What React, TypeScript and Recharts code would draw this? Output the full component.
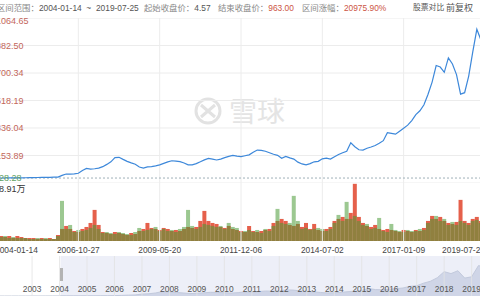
import React from "react";
import {
  LineChart,
  Line,
  BarChart,
  Bar,
  AreaChart,
  Area,
  XAxis,
  YAxis,
  ReferenceLine,
  ReferenceArea,
} from "recharts";

//#region Data

const rangeStart = "2004-01-14";
const rangeEnd = "2019-07-25";
const startClose = 4.57;
const endClose = 963.0;
const rangeChange = "20975.90%";

const dateLabels = ["2004-01-14", "2006-10-27", "2009-05-20", "2011-12-06", "2014-07-02", "2017-01-09", "2019-07-25"];
const priceTicks = [-28.28, 153.89, 336.04, 518.19, 700.34, 882.5, 1064.65];
const pctTicks = [-718.59, 3267.93, 7254.45, 11240.97, 15227.48, 19214.0, 23200.52];

// front-adjusted close, sampled evenly over trading days
const price = [
  4.57, 4.8, 5.0, 5.3, 5.6, 5.9, 6.2, 6.6, 7.0, 7.5, 8.0, 8.5, 9.0, 9.6, 10.2,
  11, 22, 31, 31, 32, 36, 55, 68, 64, 66, 70, 80, 95, 112, 140,
  142, 128, 115, 105, 96, 78, 70, 78, 80, 85, 92, 102, 112, 119, 117,
  113, 104, 92, 92, 100, 112, 125, 135, 130, 124, 130, 140, 148, 155, 150,
  146, 152, 158, 175, 190, 188, 182, 172, 162, 155, 135, 148, 138, 130, 110,
  98, 92, 100, 112, 115, 132, 136, 130, 145, 160, 172, 182, 238, 212, 192,
  190, 202, 210, 220, 235, 252, 305, 300, 295, 315, 335, 355, 385, 425, 450,
  490, 560, 640, 750, 740, 705, 800, 760, 690, 560, 570, 680, 840, 990, 920, 963,
];

// volume (万) on up days / down days
const volUp = [
  2, 2.5, 2, 2.5, 1.5, 2.5, 2, 1.5, 1.5, 1.5, 1, 1.5, 1, 1.5, 1,
  3, 6, 7.5, 6, 5, 4.5, 6, 7, 9, 15.5, 8, 4.5, 4, 3.5, 4.5,
  4, 3.5, 3, 4, 3.5, 5, 6, 9, 6.5, 6, 5.5, 6.5, 6, 5, 5.5,
  5, 6, 7, 6.5, 7, 10, 15, 10, 9, 8.5, 7, 6.5, 7.5, 6, 5.5,
  5, 4.5, 7.5, 5, 4.5, 5, 5.5, 6, 9, 10, 11, 10, 8, 7.5, 8.5,
  7, 9, 6, 8.5, 5.5, 5, 6, 7, 10, 11, 12, 11, 14, 28.5, 12,
  9, 7.5, 7, 8, 6, 5.5, 6, 5.5, 5, 4.5, 5.5, 5, 4.5, 5.5, 5,
  6.5, 10, 12.5, 11, 12, 10, 9, 8.5, 9.5, 20.5, 10, 9, 11, 12, 10, 9,
];
const volDown = [
  1.5, 2, 2.5, 1.5, 2, 1.5, 1.5, 1.5, 1, 1, 1.5, 1, 1.5, 1, 1,
  2.5, 20, 6, 8, 4.5, 5.5, 5, 5.5, 6.5, 8, 6, 4, 4.5, 4, 3.5,
  4.5, 4, 3.5, 3, 4.5, 6.5, 5, 5.5, 6, 7, 5, 6, 5, 5.5, 4.5,
  6, 7, 15.5, 7.5, 6, 7, 8.5, 8, 7.5, 7, 7.5, 6, 9, 7, 6.5,
  4.5, 5, 5.5, 4.5, 5.5, 4, 6, 5, 7.5, 16, 9, 8.5, 9, 22.5, 10,
  6, 6.5, 5.5, 6, 6.5, 6, 5, 6, 9, 13, 10, 19.5, 11, 12.5, 10,
  8, 8.5, 6, 6.5, 11.5, 5, 4.5, 8.5, 5.5, 5, 4.5, 5.5, 5, 5, 6,
  5.5, 9, 11, 12.5, 10, 11, 8, 9.5, 8, 10, 9, 8, 10, 10.5, 9, 8,
];
const volMax = 28.91;

// navigator: quarterly closes since listing
const navT = [
  2001.65, 2002, 2002.25, 2002.5, 2002.75, 2003, 2003.25, 2003.5, 2003.75,
  2004, 2004.25, 2004.5, 2004.75, 2005, 2005.25, 2005.5, 2005.75,
  2006, 2006.25, 2006.5, 2006.75, 2007, 2007.25, 2007.5, 2007.75,
  2008, 2008.25, 2008.5, 2008.75, 2009, 2009.25, 2009.5, 2009.75,
  2010, 2010.25, 2010.5, 2010.75, 2011, 2011.25, 2011.5, 2011.75,
  2012, 2012.25, 2012.5, 2012.75, 2013, 2013.25, 2013.5, 2013.75,
  2014, 2014.25, 2014.5, 2014.75, 2015, 2015.25, 2015.5, 2015.75,
  2016, 2016.25, 2016.5, 2016.75, 2017, 2017.25, 2017.5, 2017.75,
  2018, 2018.25, 2018.5, 2018.75, 2019, 2019.25, 2019.5, 2019.56,
];
const navPrice = [
  3.5, 3.2, 3.4, 3.6, 3.3, 3.4, 3.8, 4.0, 4.2,
  4.6, 5.0, 5.4, 5.8, 6.3, 7.0, 8.0, 9.5,
  11, 20, 27, 33, 60, 70, 95, 140,
  130, 110, 95, 75, 85, 100, 115, 112,
  100, 92, 105, 130, 125, 140, 155, 150,
  160, 190, 185, 160, 150, 130, 110, 95,
  100, 115, 135, 150, 175, 235, 200, 195,
  210, 230, 250, 300, 320, 400, 460, 570,
  760, 700, 790, 560, 600, 950, 900, 963,
];
const navYears = [2003, 2004, 2005, 2006, 2007, 2008, 2009, 2010, 2011, 2012, 2013, 2014, 2015, 2016, 2017, 2018, 2019];

//#endregion

const FONT = '"Liberation Sans", Arial, "Noto Sans CJK SC", sans-serif';
const RED = "#e0442c";
const GREEN = "#4a9a36";
const TICK_RED = "#c3665a";
const TICK_GREEN = "#5f9f5f";
const GRID = "#ececec";

const W = 492;
const n = price.length;
const half = W / n / 2;
const step = (n - 1) / (dateLabels.length - 1);
const gridIdx = dateLabels.map((_, k) => k * step);

const mainData = price.map((p, i) => ({ i, p, up: volUp[i], down: volDown[i] }));
const navData = navT.map((t, k) => ({ t, v: navPrice[k] }));

const toYear = (s: string) => {
  const d = new Date(s + "T00:00:00Z");
  const y = d.getUTCFullYear();
  const start = Date.UTC(y, 0, 1);
  return y + (d.getTime() - start) / (Date.UTC(y + 1, 0, 1) - start);
};
const selStart = toYear(rangeStart);
const navStart = navT[0];
const navEnd = navT[navT.length - 1];

//#region Ticks

const sideTick = (ticks: number[], right: boolean) => (props: any) => {
  const { y, payload } = props;
  const k = ticks.indexOf(payload.value);
  const dy = k === 0 ? -5 : k === ticks.length - 1 ? 3 : 0;
  const txt = payload.value.toFixed(2) + (right ? "%" : "");
  return (
    <text
      x={right ? W - 1 : 1}
      y={y + dy}
      dy="0.35em"
      textAnchor={right ? "end" : "start"}
      fontSize={9}
      fontFamily={FONT}
      fill={k === 0 ? TICK_GREEN : TICK_RED}
    >
      {txt}
    </text>
  );
};

const DateTick = (props: any) => {
  const { x, payload } = props;
  const k = Math.round(payload.value / step);
  const anchor = k === 0 ? "start" : k === dateLabels.length - 1 ? "end" : "middle";
  return (
    <text x={k === 0 ? x - 2 : x} y={67} dy="0.35em" textAnchor={anchor} fontSize={8.4} fontFamily={FONT} fill="#444">
      {dateLabels[k]}
    </text>
  );
};

const yearLabel = (year: number) => (props: any) => {
  const vb = props.viewBox || {};
  return (
    <text x={vb.x} y={33} dy="0.35em" textAnchor="middle" fontSize={8.4} fontFamily={FONT} fill="#555">
      {year}
    </text>
  );
};

//#endregion

const Header = () => {
  const base: React.CSSProperties = { position: "absolute", top: 3, fontSize: 8.4, lineHeight: "10px", color: "#888", whiteSpace: "pre" };
  return (
    <>
      <div style={{ ...base, left: -3 }}>
        区间范围：<span style={{ color: "#555" }}>{`${rangeStart}  ~  ${rangeEnd}`}</span>
      </div>
      <div style={{ ...base, left: 144 }}>
        起始收盘价：<span style={{ color: "#555" }}>{startClose.toFixed(2)}</span>
      </div>
      <div style={{ ...base, left: 218 }}>
        结束收盘价：<span style={{ color: "#cc5544" }}>{endClose.toFixed(2)}</span>
      </div>
      <div style={{ ...base, left: 302 }}>
        区间涨幅：<span style={{ color: "#cc5544" }}>{rangeChange}</span>
      </div>
      <div style={{ ...base, left: 413, fontSize: 7.8, color: "#555" }}>股票对比</div>
      <div style={{ ...base, left: 446, fontSize: 9, color: "#555" }}>前复权</div>
    </>
  );
};

const Watermark = () => (
  <>
    <svg width={30} height={30} style={{ position: "absolute", left: 193, top: 96 }}>
      <circle cx={15} cy={15} r={12} fill="none" stroke="#e2e2e2" strokeWidth={3} />
      <path d="M8 9 Q15 15 22 21 M22 9 Q15 15 8 21" fill="none" stroke="#e2e2e2" strokeWidth={3} />
    </svg>
    <div style={{ position: "absolute", left: 229, top: 95, fontSize: 28, lineHeight: "30px", color: "#e4e4e4", fontFamily: '"Noto Sans CJK SC", sans-serif' }}>
      雪球
    </div>
  </>
);

const App = () => {
  return (
    <div style={{ position: "fixed", left: 0, top: 0, width: 480, height: 300, overflow: "hidden", background: "#fff", fontFamily: FONT }}>
      <Header />
      <Watermark />

      <div style={{ position: "absolute", left: -5, top: 18 }}>
        <LineChart width={W} height={165} data={mainData} margin={{ top: 0, right: 0, bottom: 0, left: 0 }}>
          <XAxis dataKey="i" hide padding={{ left: half, right: half }} />
          <YAxis
            yAxisId="p"
            domain={[priceTicks[0], priceTicks[priceTicks.length - 1]]}
            ticks={priceTicks}
            interval={0}
            mirror
            axisLine={false}
            tickLine={false}
            tick={sideTick(priceTicks, false)}
          />
          <YAxis
            yAxisId="pct"
            orientation="right"
            domain={[pctTicks[0], pctTicks[pctTicks.length - 1]]}
            ticks={pctTicks}
            interval={0}
            mirror
            axisLine={false}
            tickLine={false}
            tick={sideTick(pctTicks, true)}
          />
          {priceTicks.map((v) => (
            <ReferenceLine key={"h" + v} yAxisId="p" y={v} stroke={GRID} />
          ))}
          {gridIdx.map((x) => (
            <ReferenceLine key={"v" + x} yAxisId="p" x={x} stroke={GRID} />
          ))}
          <ReferenceLine yAxisId="p" y={startClose} stroke="#9fb0b8" strokeDasharray="2 2" />
          <Line yAxisId="p" type="linear" dataKey="p" stroke="#3d88da" strokeWidth={1.2} dot={false} isAnimationActive={false} />
        </LineChart>
      </div>

      <div style={{ position: "absolute", left: -5, top: 183 }}>
        <BarChart width={W} height={72} data={mainData} margin={{ top: 0, right: 0, bottom: 0, left: 0 }} barCategoryGap={0} barGap="-100%">
          <XAxis dataKey="i" height={14} interval={step - 1} axisLine={false} tickLine={false} tick={<DateTick />} />
          <YAxis hide domain={[0, volMax]} />
          {gridIdx.map((x) => (
            <ReferenceLine key={"b" + x} x={x} stroke={GRID} />
          ))}
          <Bar dataKey="up" fill={RED} fillOpacity={0.85} isAnimationActive={false} />
          <Bar dataKey="down" fill={GREEN} fillOpacity={0.55} isAnimationActive={false} />
        </BarChart>
      </div>
      <div style={{ position: "absolute", left: -6, top: 184, fontSize: 9, lineHeight: "10px", color: "#333", whiteSpace: "pre" }}>
        {volMax}万
      </div>

      <div style={{ position: "absolute", left: -5, top: 256 }}>
        <AreaChart width={W} height={40} data={navData} margin={{ top: 0, right: 0, bottom: 0, left: 0 }}>
          <XAxis dataKey="t" type="number" domain={[navStart, navEnd]} hide />
          <YAxis hide domain={[0, 1250]} />
          <Area type="linear" dataKey="v" stroke="#cfd5e0" fill="#dde2ec" fillOpacity={1} isAnimationActive={false} />
          <ReferenceArea x1={selStart} x2={navEnd} fill="#6d7fc4" fillOpacity={0.12} stroke="none" />
          {navYears.map((y) => (
            <ReferenceLine key={"y" + y} x={y} stroke="#e2e2e2" strokeOpacity={0.8} label={yearLabel(y)} />
          ))}
        </AreaChart>
      </div>
      <div style={{ position: "absolute", left: 60, top: 268, width: 3, height: 13, background: "#b3b3b3" }} />
    </div>
  );
};

export default App;
